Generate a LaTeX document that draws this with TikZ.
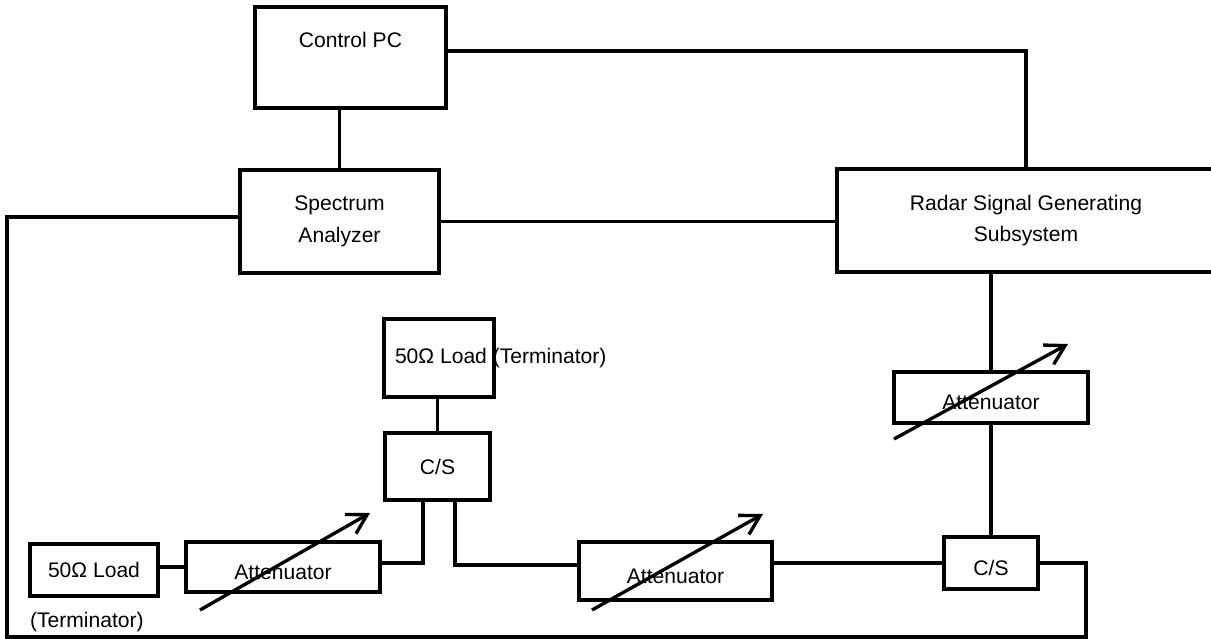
\documentclass[tikz,border=0pt]{standalone}
\usepackage{fontspec}
\setmainfont{Liberation Sans}
\usetikzlibrary{arrows.meta}

\begin{document}
\begin{tikzpicture}[x=0.02cm, y=-0.02cm, line width=1.9pt,
        font=\fontsize{12}{18}\selectfont,
        block/.style={draw, align=center, inner sep=0pt},
        lowtext/.style={block, text height=0.5cm},
        every label/.style={inner sep=0pt},
        tune/.style={-{Straight Barb[length=3.8mm, width=4.4mm]}}]
        \useasboundingbox (0,0) rectangle (1211,639);

        % Top row
        \node[block, minimum width=3.82cm, minimum height=2.02cm,
              label={[anchor=north, yshift=-0.5cm]north:Control PC}] (ctrl) at (350.5,57.5) {};
        \node[block, minimum width=3.98cm, minimum height=2.06cm] (spec) at (339.5,221.5) {Spectrum\\Analyzer};
        \node[block, minimum width=7.56cm, minimum height=2.06cm] (radar) at (1026,220.5) {Radar Signal Generating\\Subsystem};

        % Coupler branch
        \node[block, minimum width=2.2cm, minimum height=1.56cm,
              label={[anchor=west, xshift=0.22cm]west:50Ω Load (Terminator)}] (load2) at (439,358) {};
        \node[block, minimum width=2.1cm, minimum height=1.34cm] (cs1) at (437.5,466.5) {C/S};

        % Bottom row
        \node[block, minimum width=2.56cm, minimum height=1.04cm,
              label={[anchor=north west, yshift=-0.26cm]south west:(Terminator)}] (load1) at (94,570) {50Ω Load};
        \node[lowtext, minimum width=3.88cm, minimum height=1.0cm] (att1) at (283,567) {Attenuator};
        \node[lowtext, minimum width=3.86cm, minimum height=1.16cm] (att2) at (675.5,571) {Attenuator};
        \node[lowtext, minimum width=1.88cm, minimum height=1.04cm] (cs2) at (991,563) {C/S};

        % Attenuator under the generator
        \node[lowtext, minimum width=3.88cm, minimum height=1.02cm] (att3) at (991,397.5) {Attenuator};

        % Loop corners
        \coordinate (loopl) at (7,637);
        \coordinate (loopr) at (1086,637);

        % Connections
        \draw (spec.north) -- (spec.north |- ctrl.south);
        \draw ([yshift=0.13cm]ctrl.east) -| (radar.north);
        \draw (spec.east) -- (spec.east -| radar.west);
        \draw ([yshift=0.09cm]spec.west) -| (loopl) -- (loopr) |- (cs2.east);
        \draw (att1.west -| load1.east) -- (att1.west);
        \draw ([yshift=0.08cm]att1.east) -| ([xshift=-0.29cm]cs1.south);
        \draw ([xshift=0.35cm]cs1.south) |- ([yshift=0.12cm]att2.west);
        \draw (cs2.west) -- (cs2.west -| att2.east);
        \draw (cs1.north) -- (cs1.north |- load2.south);
        \draw (cs2.north) -- (att3.south);
        \draw (att3.north) -- (att3.north |- radar.south);

        % Variable attenuator arrows
        \draw[tune] ([shift={(-83,43)}]att1.center) -- ([shift={(87,-54)}]att1.center);
        \draw[tune] ([shift={(-83.5,39)}]att2.center) -- ([shift={(87.5,-57)}]att2.center);
        \draw[tune] ([shift={(-97,41.5)}]att3.center) -- ([shift={(77,-53.5)}]att3.center);
    \end{tikzpicture}
\end{document}
